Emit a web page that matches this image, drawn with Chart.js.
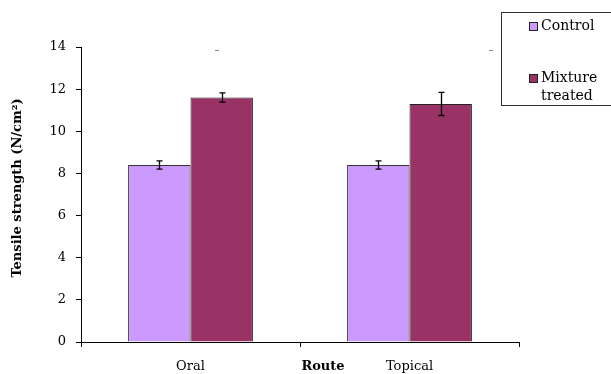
<!DOCTYPE html>
<html>
<head>
<meta charset="utf-8">
<script src="https://cdn.jsdelivr.net/npm/chart.js@4.4.1/dist/chart.umd.min.js"></script>
<style>
  html, body { margin: 0; padding: 0; background: #fff; }
  #wrap { width: 611px; height: 374px; }
</style>
</head>
<body>
<div id="wrap"><canvas id="myChart" width="611" height="374"></canvas></div>
<script>
'use strict';

// data
let routes = ['Oral', 'Topical'];
let controlValues = [8.4, 8.4];
let controlErrors = [0.2, 0.2];
let mixtureValues = [11.6, 11.3];
let mixtureErrors = [0.22, 0.55];
let yTicks = [0, 2, 4, 6, 8, 10, 12, 14];

let serif = '"DejaVu Serif", "Liberation Serif", serif';

// error bars drawn from the y scale
let errorBars = {
  id: 'errorBars',
  afterDatasetsDraw(chart) {
    let ctx = chart.ctx;
    let yScale = chart.scales.y;
    ctx.save();
    ctx.strokeStyle = '#000';
    ctx.lineWidth = 1.3;
    chart.data.datasets.forEach((ds, di) => {
      let meta = chart.getDatasetMeta(di);
      meta.data.forEach((bar, i) => {
        let v = ds.data[i];
        let e = ds.errors[i];
        let top = yScale.getPixelForValue(v + e);
        let bottom = yScale.getPixelForValue(v - e);
        let x = Math.round(bar.x) + 0.5;
        ctx.beginPath();
        ctx.moveTo(x, top);
        ctx.lineTo(x, bottom);
        ctx.moveTo(x - 3, top);
        ctx.lineTo(x + 3, top);
        ctx.moveTo(x - 3, bottom);
        ctx.lineTo(x + 3, bottom);
        ctx.stroke();
      });
    });
    ctx.restore();
  }
};

// axis titles and legend box
let extras = {
  id: 'extras',
  afterDraw(chart) {
    let ctx = chart.ctx;
    ctx.save();
    ctx.fillStyle = '#000';

    ctx.font = 'bold 13px ' + serif;
    ctx.textAlign = 'center';
    ctx.textBaseline = 'middle';
    ctx.fillText('Route', 323, 367);

    ctx.translate(18, 188);
    ctx.rotate(-Math.PI / 2);
    ctx.fillText('Tensile strength (N/cm\u00B2)', 0, 0);
    ctx.restore();

    // stray marks along the top of the plot
    ctx.save();
    ctx.strokeStyle = '#888';
    ctx.beginPath();
    ctx.moveTo(215, 50.5);
    ctx.lineTo(219, 50.5);
    ctx.moveTo(489, 50.5);
    ctx.lineTo(493, 50.5);
    ctx.stroke();
    ctx.restore();

    ctx.save();
    ctx.strokeStyle = '#333';
    ctx.lineWidth = 1;
    ctx.strokeRect(501.5, 12.5, 120, 93);

    let ds = chart.data.datasets;
    ctx.font = '14px ' + serif;
    ctx.textAlign = 'left';
    ctx.textBaseline = 'middle';
    let rows = [{ y: 26, lines: [ds[0].label] }, { y: 78, lines: ds[1].label.split(' ') }];
    rows.forEach((row, i) => {
      ctx.fillStyle = ds[i].backgroundColor;
      ctx.fillRect(529, row.y - 4, 9, 9);
      ctx.strokeStyle = '#222';
      ctx.strokeRect(529.5, row.y - 3.5, 8, 8);
      ctx.fillStyle = '#000';
      row.lines.forEach((t, k) => ctx.fillText(t, 541, row.y + k * 18));
    });
    ctx.restore();
  }
};

let ctx = document.getElementById('myChart');
new Chart(ctx, {
  type: 'bar',
  data: {
    labels: routes,
    datasets: [
      {
        label: 'Control',
        data: controlValues,
        errors: controlErrors,
        backgroundColor: '#CC99FF',
        borderColor: '#333',
        borderWidth: 1,
        categoryPercentage: 0.57,
        barPercentage: 1
      },
      {
        label: 'Mixture treated',
        data: mixtureValues,
        errors: mixtureErrors,
        backgroundColor: '#993366',
        borderColor: '#222',
        borderWidth: 1,
        categoryPercentage: 0.57,
        barPercentage: 1
      }
    ]
  },
  options: {
    responsive: false,
    animation: false,
    layout: { padding: { left: 0, right: 92, top: 47, bottom: 0 } },
    plugins: {
      legend: { display: false },
      tooltip: { enabled: false }
    },
    scales: {
      x: {
        offset: true,
        grid: { offset: true, drawOnChartArea: false, tickLength: 5, color: '#000' },
        border: { color: '#000', width: 1 },
        ticks: { color: '#000', font: { family: serif, size: 13 }, padding: 12 },
        afterFit(scale) { scale.height = 32; }
      },
      y: {
        min: 0,
        max: 14,
        afterBuildTicks(scale) { scale.ticks = yTicks.map(v => ({ value: v })); },
        grid: { drawOnChartArea: false, tickLength: 5, color: '#000' },
        border: { color: '#000', width: 1 },
        ticks: { color: '#000', font: { family: serif, size: 13 }, padding: 10 },
        afterFit(scale) { scale.width = 81; }
      }
    }
  },
  plugins: [errorBars, extras]
});
</script>
</body>
</html>
